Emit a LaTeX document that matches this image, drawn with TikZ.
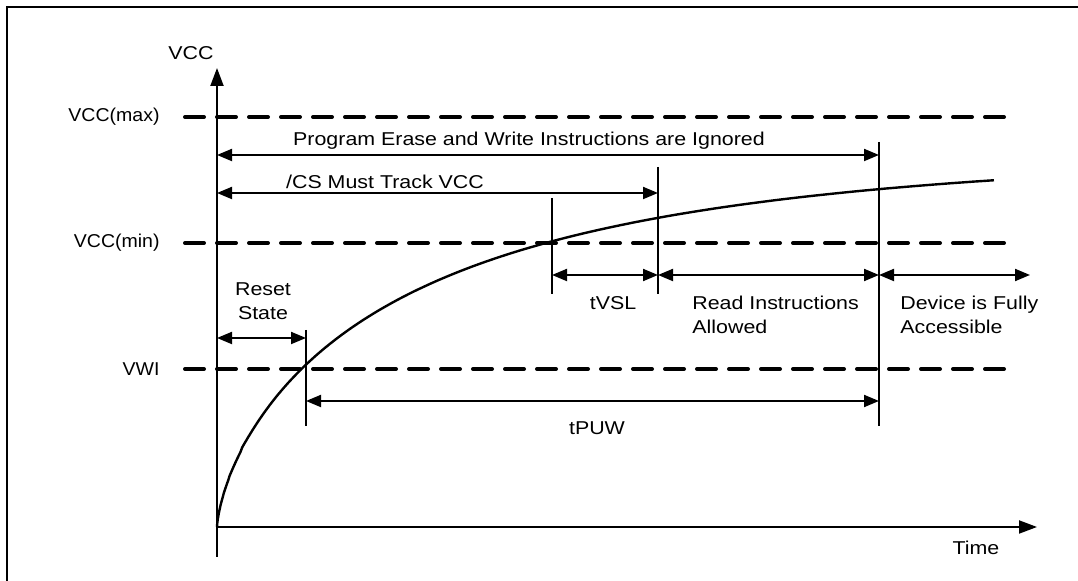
\documentclass[tikz,border=0pt]{standalone}
\usepackage{fontspec}
\setmainfont{Liberation Sans}[FakeStretch=1.15]
\newfontfamily\lvlfont{Liberation Sans}[FakeStretch=1.05]
\usetikzlibrary{arrows.meta,positioning}
\tikzset{
    lvlline/.style={line width=2pt, dash pattern=on 9.5pt off 6.5pt, line cap=round},
    axisline/.style={line width=1pt, -{Triangle[length=9pt,width=6.5pt]}},
    span/.style={line width=1pt, {Triangle[length=7.5pt,width=6pt]}-{Triangle[length=7.5pt,width=6pt]}},
    tickline/.style={line width=1.2pt},
    lbl/.style={inner sep=0pt, font=\fontsize{9.3}{12}\selectfont},
    lvllbl/.style={inner sep=0pt, anchor=east, font=\lvlfont\fontsize{9.3}{12}\selectfont}
}

\begin{document}
\begin{tikzpicture}[x=0.5pt, y=-0.5pt]
    \useasboundingbox (0,0) rectangle (1078,581);
    % frame
    \draw[line width=1.2pt] (1078,7) -- (7,7) -- (7,581);

    % levels
    \foreach \name/\y/\txt in {vmax/117/VCC(max), vmin/243/VCC(min), vwi/369/VWI} {
        \node[lvllbl] (\name-lbl) at (160,\y) {\txt};
        \coordinate (\name-a) at (185,\y);
        \coordinate (\name-b) at (1007,\y);
        \draw[lvlline] (\name-a) -- (\name-b);
    }

    % axes
    \coordinate (org) at (217,527);
    \coordinate (ybot) at (217,557);
    \coordinate (ytip) at (217,68);
    \coordinate (xtip) at (1037,527);
    \draw[axisline] (ybot) -- (ytip);
    \draw[axisline] (org) -- (xtip);
    \node[lbl] (vcc) at (191,53) {VCC};
    \node[lbl] (time) at (976,548) {Time};

    % markers
    \foreach \name/\x/\ya/\yb in {rst/306/330/426, cmin/552/198/294, vsl/658/167/294, puw/879/142/426} {
        \coordinate (\name-t) at (\x,\ya);
        \coordinate (\name-b) at (\x,\yb);
        \draw[tickline] (\name-t) -- (\name-b);
    }

    % supply curve
    \draw[line width=1.2pt] (org) -- plot[domain=0.2:27.875, samples=150]
        ({217+\x*\x}, {527-375*(1-exp(-pow(\x*\x/200,0.7)))});

    % spans
    \coordinate (pe-a) at (217,155);  \coordinate (pe-b) at (879,155);
    \coordinate (cs-a) at (217,193);  \coordinate (cs-b) at (658,193);
    \coordinate (rs-a) at (217,338);  \coordinate (rs-b) at (306,338);
    \coordinate (sl-a) at (552,275);  \coordinate (sl-b) at (658,275);
    \coordinate (rd-b) at (879,275);  \coordinate (fa-b) at (1030,275);
    \coordinate (pw-a) at (306,401);  \coordinate (pw-b) at (879,401);
    \draw[span] (pe-a) -- (pe-b);
    \draw[span] (cs-a) -- (cs-b);
    \draw[span] (rs-a) -- (rs-b);
    \draw[span] (sl-a) -- (sl-b);
    \draw[span] (sl-b) -- (rd-b);
    \draw[span] (rd-b) -- (fa-b);
    \draw[span] (pw-a) -- (pw-b);

    % span labels
    \node[lbl] (pe-lbl) at (529,141) {Program Erase and Write Instructions are Ignored};
    \node[lbl] (cs-lbl) at (385,182) {/CS Must Track VCC};
    \node[lbl, align=center] (rs-lbl) at (263,301) {Reset\\State};
    \node[lbl] (sl-lbl) at (613,303) {tVSL};
    \node[lbl, align=left, anchor=west] (rd-lbl) at (692,315) {Read Instructions\\Allowed};
    \node[lbl, align=left, anchor=west] (fa-lbl) at (900,315) {Device is Fully\\Accessible};
    \node[lbl] (pw-lbl) at (597,428) {tPUW};
\end{tikzpicture}
\end{document}
